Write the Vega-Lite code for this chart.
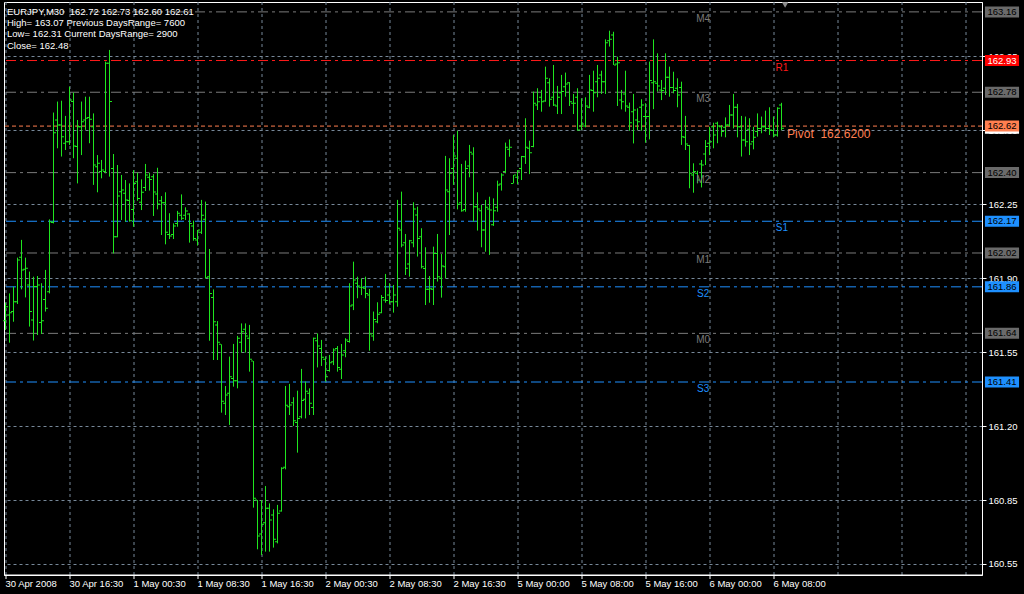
{
  "$schema": "https://vega.github.io/schema/vega-lite/v6.json",
  "width": 978,
  "height": 573,
  "autosize": {"type": "none"},
  "padding": {"left": 4, "top": 2, "right": 42, "bottom": 19},
  "background": "#000000",
  "config": {
    "view": {"stroke": "#ffffff", "strokeWidth": 1},
    "font": "Liberation Sans"
  },
  "title": {
    "text": "EURJPY,M30\u00a0 162.72 162.73 162.60 162.61",
    "subtitle": ["High= 163.07 Previous DaysRange= 7600", "Low= 162.31 Current DaysRange= 2900", "Close= 162.48"],
    "anchor": "start",
    "frame": "group",
    "orient": "top",
    "offset": -48,
    "dx": 3,
    "color": "#ffffff",
    "subtitleColor": "#ffffff",
    "font": "Liberation Sans",
    "subtitleFont": "Liberation Sans",
    "fontSize": 9.5,
    "subtitleFontSize": 9.5,
    "fontWeight": "normal",
    "subtitleLineHeight": 11.5,
    "subtitlePadding": 1.5
  },
  "datasets": {
    "bars": [
      {"i":0,"o":161.700,"h":161.785,"l":161.656,"c":161.766},
      {"i":1,"o":161.727,"h":161.829,"l":161.596,"c":161.738},
      {"i":2,"o":161.743,"h":161.861,"l":161.695,"c":161.790},
      {"i":3,"o":161.790,"h":161.998,"l":161.779,"c":161.987},
      {"i":4,"o":162.000,"h":162.082,"l":161.848,"c":161.940},
      {"i":5,"o":161.943,"h":161.998,"l":161.810,"c":161.948},
      {"i":6,"o":161.869,"h":161.932,"l":161.672,"c":161.743},
      {"i":7,"o":161.703,"h":161.908,"l":161.606,"c":161.861},
      {"i":8,"o":161.861,"h":161.911,"l":161.632,"c":161.869},
      {"i":9,"o":161.691,"h":161.877,"l":161.637,"c":161.700},
      {"i":10,"o":161.800,"h":161.940,"l":161.743,"c":161.759},
      {"i":11,"o":161.837,"h":162.179,"l":161.829,"c":162.168},
      {"i":12,"o":162.164,"h":162.684,"l":162.160,"c":162.589},
      {"i":13,"o":162.649,"h":162.736,"l":162.515,"c":162.625},
      {"i":14,"o":162.625,"h":162.740,"l":162.476,"c":162.570},
      {"i":15,"o":162.539,"h":162.668,"l":162.507,"c":162.546},
      {"i":16,"o":162.546,"h":162.806,"l":162.531,"c":162.743},
      {"i":17,"o":162.736,"h":162.778,"l":162.468,"c":162.526},
      {"i":18,"o":162.523,"h":162.649,"l":162.349,"c":162.617},
      {"i":19,"o":162.617,"h":162.736,"l":162.483,"c":162.641},
      {"i":20,"o":162.649,"h":162.759,"l":162.602,"c":162.657},
      {"i":21,"o":162.661,"h":162.759,"l":162.539,"c":162.652},
      {"i":22,"o":162.617,"h":162.680,"l":162.342,"c":162.436},
      {"i":23,"o":162.428,"h":162.483,"l":162.307,"c":162.444},
      {"i":24,"o":162.405,"h":162.460,"l":162.373,"c":162.412},
      {"i":25,"o":162.405,"h":162.925,"l":162.397,"c":162.917},
      {"i":26,"o":162.917,"h":162.980,"l":162.381,"c":162.736},
      {"i":27,"o":162.420,"h":162.488,"l":162.018,"c":162.097},
      {"i":28,"o":162.097,"h":162.436,"l":162.094,"c":162.290},
      {"i":29,"o":162.310,"h":162.389,"l":162.176,"c":162.318},
      {"i":30,"o":162.302,"h":162.365,"l":162.168,"c":162.271},
      {"i":31,"o":162.268,"h":162.349,"l":162.168,"c":162.173},
      {"i":32,"o":162.226,"h":162.412,"l":162.144,"c":162.349},
      {"i":33,"o":162.357,"h":162.400,"l":162.267,"c":162.278},
      {"i":34,"o":162.260,"h":162.368,"l":162.223,"c":162.307},
      {"i":35,"o":162.330,"h":162.441,"l":162.313,"c":162.389},
      {"i":36,"o":162.378,"h":162.400,"l":162.315,"c":162.368},
      {"i":37,"o":162.381,"h":162.393,"l":162.195,"c":162.308},
      {"i":38,"o":162.299,"h":162.423,"l":162.226,"c":162.252},
      {"i":39,"o":162.267,"h":162.289,"l":162.105,"c":162.258},
      {"i":40,"o":162.258,"h":162.307,"l":162.061,"c":162.118},
      {"i":41,"o":162.108,"h":162.208,"l":162.086,"c":162.100},
      {"i":42,"o":162.108,"h":162.160,"l":162.086,"c":162.148},
      {"i":43,"o":162.160,"h":162.219,"l":162.144,"c":162.208},
      {"i":44,"o":162.198,"h":162.297,"l":162.176,"c":162.184},
      {"i":45,"o":162.198,"h":162.236,"l":162.176,"c":162.219},
      {"i":46,"o":162.204,"h":162.208,"l":162.069,"c":162.160},
      {"i":47,"o":162.148,"h":162.173,"l":162.078,"c":162.088},
      {"i":48,"o":162.081,"h":162.129,"l":162.055,"c":162.129},
      {"i":49,"o":162.118,"h":162.271,"l":162.110,"c":162.198},
      {"i":50,"o":162.179,"h":162.263,"l":161.900,"c":161.903},
      {"i":51,"o":161.908,"h":162.039,"l":161.605,"c":161.829},
      {"i":52,"o":161.810,"h":161.848,"l":161.514,"c":161.695},
      {"i":53,"o":161.680,"h":161.698,"l":161.514,"c":161.598},
      {"i":54,"o":161.588,"h":161.588,"l":161.265,"c":161.319},
      {"i":55,"o":161.309,"h":161.391,"l":161.254,"c":161.349},
      {"i":56,"o":161.357,"h":161.530,"l":161.207,"c":161.435},
      {"i":57,"o":161.427,"h":161.590,"l":161.388,"c":161.416},
      {"i":58,"o":161.416,"h":161.628,"l":161.380,"c":161.617},
      {"i":59,"o":161.598,"h":161.687,"l":161.549,"c":161.648},
      {"i":60,"o":161.659,"h":161.687,"l":161.549,"c":161.628},
      {"i":61,"o":161.617,"h":161.680,"l":161.459,"c":161.517},
      {"i":62,"o":161.509,"h":161.509,"l":160.816,"c":160.860},
      {"i":63,"o":160.852,"h":160.852,"l":160.619,"c":160.682},
      {"i":64,"o":160.691,"h":160.852,"l":160.592,"c":160.737},
      {"i":65,"o":160.745,"h":160.918,"l":160.608,"c":160.813},
      {"i":66,"o":160.813,"h":160.836,"l":160.608,"c":160.758},
      {"i":67,"o":160.781,"h":160.808,"l":160.627,"c":160.666},
      {"i":68,"o":160.655,"h":160.829,"l":160.647,"c":160.789},
      {"i":69,"o":160.800,"h":161.007,"l":160.797,"c":161.002},
      {"i":70,"o":161.007,"h":161.391,"l":160.997,"c":161.300},
      {"i":71,"o":161.293,"h":161.401,"l":161.254,"c":161.301},
      {"i":72,"o":161.312,"h":161.338,"l":161.202,"c":161.227},
      {"i":73,"o":161.218,"h":161.369,"l":161.076,"c":161.238},
      {"i":74,"o":161.246,"h":161.472,"l":161.238,"c":161.322},
      {"i":75,"o":161.328,"h":161.412,"l":161.238,"c":161.366},
      {"i":76,"o":161.357,"h":161.380,"l":161.254,"c":161.309},
      {"i":77,"o":161.290,"h":161.620,"l":161.254,"c":161.617},
      {"i":78,"o":161.605,"h":161.640,"l":161.479,"c":161.580},
      {"i":79,"o":161.569,"h":161.609,"l":161.486,"c":161.527},
      {"i":80,"o":161.517,"h":161.530,"l":161.412,"c":161.435},
      {"i":81,"o":161.464,"h":161.538,"l":161.459,"c":161.501},
      {"i":82,"o":161.506,"h":161.569,"l":161.490,"c":161.561},
      {"i":83,"o":161.569,"h":161.580,"l":161.459,"c":161.479},
      {"i":84,"o":161.470,"h":161.590,"l":161.424,"c":161.538},
      {"i":85,"o":161.558,"h":161.617,"l":161.527,"c":161.609},
      {"i":86,"o":161.601,"h":161.877,"l":161.596,"c":161.769},
      {"i":87,"o":161.774,"h":161.979,"l":161.750,"c":161.892},
      {"i":88,"o":161.877,"h":161.908,"l":161.806,"c":161.864},
      {"i":89,"o":161.858,"h":161.900,"l":161.821,"c":161.858},
      {"i":90,"o":161.853,"h":161.908,"l":161.806,"c":161.829},
      {"i":91,"o":161.821,"h":161.850,"l":161.558,"c":161.637},
      {"i":92,"o":161.628,"h":161.743,"l":161.605,"c":161.706},
      {"i":93,"o":161.695,"h":161.787,"l":161.688,"c":161.730},
      {"i":94,"o":161.738,"h":161.821,"l":161.735,"c":161.810},
      {"i":95,"o":161.798,"h":161.921,"l":161.785,"c":161.795},
      {"i":96,"o":161.821,"h":161.877,"l":161.779,"c":161.790},
      {"i":97,"o":161.790,"h":161.869,"l":161.738,"c":161.821},
      {"i":98,"o":161.790,"h":162.271,"l":161.766,"c":162.137},
      {"i":99,"o":162.129,"h":162.310,"l":162.047,"c":162.058},
      {"i":100,"o":162.069,"h":162.110,"l":161.916,"c":161.948},
      {"i":101,"o":161.968,"h":162.082,"l":161.908,"c":162.078},
      {"i":102,"o":162.069,"h":162.260,"l":162.047,"c":162.228},
      {"i":103,"o":162.200,"h":162.239,"l":162.003,"c":162.089},
      {"i":104,"o":162.097,"h":162.137,"l":161.947,"c":161.955},
      {"i":105,"o":161.947,"h":162.047,"l":161.774,"c":161.848},
      {"i":106,"o":161.848,"h":161.911,"l":161.785,"c":161.851},
      {"i":107,"o":161.848,"h":162.050,"l":161.774,"c":162.018},
      {"i":108,"o":162.018,"h":162.110,"l":161.885,"c":161.908},
      {"i":109,"o":161.900,"h":162.015,"l":161.809,"c":161.959},
      {"i":110,"o":161.955,"h":162.479,"l":161.900,"c":162.318},
      {"i":111,"o":162.310,"h":162.468,"l":162.105,"c":162.397},
      {"i":112,"o":162.420,"h":162.578,"l":162.342,"c":162.479},
      {"i":113,"o":162.468,"h":162.598,"l":162.226,"c":162.250},
      {"i":114,"o":162.258,"h":162.441,"l":162.215,"c":162.220},
      {"i":115,"o":162.226,"h":162.457,"l":162.215,"c":162.420},
      {"i":116,"o":162.431,"h":162.531,"l":162.378,"c":162.496},
      {"i":117,"o":162.488,"h":162.520,"l":162.168,"c":162.239},
      {"i":118,"o":162.239,"h":162.307,"l":162.126,"c":162.228},
      {"i":119,"o":162.220,"h":162.247,"l":162.047,"c":162.129},
      {"i":120,"o":162.129,"h":162.271,"l":162.026,"c":162.236},
      {"i":121,"o":162.228,"h":162.286,"l":162.011,"c":162.223},
      {"i":122,"o":162.153,"h":162.278,"l":162.148,"c":162.220},
      {"i":123,"o":162.236,"h":162.362,"l":162.215,"c":162.342},
      {"i":124,"o":162.346,"h":162.397,"l":162.315,"c":162.389},
      {"i":125,"o":162.405,"h":162.542,"l":162.397,"c":162.520},
      {"i":126,"o":162.510,"h":162.557,"l":162.475,"c":162.520},
      {"i":127,"o":162.349,"h":162.389,"l":162.349,"c":162.389},
      {"i":128,"o":162.378,"h":162.412,"l":162.346,"c":162.408},
      {"i":129,"o":162.420,"h":162.479,"l":162.365,"c":162.476},
      {"i":130,"o":162.475,"h":162.657,"l":162.441,"c":162.520},
      {"i":131,"o":162.515,"h":162.551,"l":162.393,"c":162.494},
      {"i":132,"o":162.523,"h":162.783,"l":162.520,"c":162.728},
      {"i":133,"o":162.720,"h":162.799,"l":162.696,"c":162.735},
      {"i":134,"o":162.756,"h":162.791,"l":162.688,"c":162.735},
      {"i":135,"o":162.739,"h":162.901,"l":162.735,"c":162.846},
      {"i":136,"o":162.825,"h":162.846,"l":162.712,"c":162.747},
      {"i":137,"o":162.756,"h":162.909,"l":162.715,"c":162.720},
      {"i":138,"o":162.715,"h":162.810,"l":162.677,"c":162.756},
      {"i":139,"o":162.778,"h":162.862,"l":162.677,"c":162.783},
      {"i":140,"o":162.806,"h":162.873,"l":162.759,"c":162.819},
      {"i":141,"o":162.825,"h":162.828,"l":162.715,"c":162.735},
      {"i":142,"o":162.728,"h":162.772,"l":162.677,"c":162.728},
      {"i":143,"o":162.756,"h":162.799,"l":162.598,"c":162.601},
      {"i":144,"o":162.620,"h":162.751,"l":162.601,"c":162.630},
      {"i":145,"o":162.620,"h":162.756,"l":162.614,"c":162.715},
      {"i":146,"o":162.709,"h":162.862,"l":162.704,"c":162.791},
      {"i":147,"o":162.788,"h":162.882,"l":162.688,"c":162.778},
      {"i":148,"o":162.830,"h":162.909,"l":162.756,"c":162.846},
      {"i":149,"o":162.862,"h":162.882,"l":162.772,"c":162.830},
      {"i":150,"o":162.830,"h":163.030,"l":162.772,"c":163.014},
      {"i":151,"o":163.024,"h":163.071,"l":162.996,"c":163.030},
      {"i":152,"o":163.051,"h":163.066,"l":162.909,"c":162.909},
      {"i":153,"o":162.914,"h":162.948,"l":162.715,"c":162.920},
      {"i":154,"o":162.743,"h":162.791,"l":162.699,"c":162.735},
      {"i":155,"o":162.772,"h":162.882,"l":162.688,"c":162.715},
      {"i":156,"o":162.709,"h":162.731,"l":162.598,"c":162.636},
      {"i":157,"o":162.688,"h":162.772,"l":162.538,"c":162.696},
      {"i":158,"o":162.649,"h":162.704,"l":162.601,"c":162.641},
      {"i":159,"o":162.709,"h":162.747,"l":162.598,"c":162.720},
      {"i":160,"o":162.665,"h":162.728,"l":162.542,"c":162.665},
      {"i":161,"o":162.665,"h":162.925,"l":162.557,"c":162.835},
      {"i":162,"o":162.825,"h":163.030,"l":162.700,"c":162.830},
      {"i":163,"o":162.822,"h":162.964,"l":162.783,"c":162.810},
      {"i":164,"o":162.791,"h":162.838,"l":162.743,"c":162.788},
      {"i":165,"o":162.799,"h":162.964,"l":162.767,"c":162.851},
      {"i":166,"o":162.851,"h":162.901,"l":162.759,"c":162.803},
      {"i":167,"o":162.803,"h":162.877,"l":162.775,"c":162.788},
      {"i":168,"o":162.799,"h":162.846,"l":162.709,"c":162.767},
      {"i":169,"o":162.803,"h":162.830,"l":162.531,"c":162.570},
      {"i":170,"o":162.567,"h":162.668,"l":162.507,"c":162.535},
      {"i":171,"o":162.528,"h":162.531,"l":162.326,"c":162.397},
      {"i":172,"o":162.389,"h":162.444,"l":162.305,"c":162.405},
      {"i":173,"o":162.397,"h":162.409,"l":162.349,"c":162.365},
      {"i":174,"o":162.441,"h":162.460,"l":162.330,"c":162.436},
      {"i":175,"o":162.488,"h":162.554,"l":162.436,"c":162.523},
      {"i":176,"o":162.539,"h":162.617,"l":162.483,"c":162.546},
      {"i":177,"o":162.617,"h":162.636,"l":162.515,"c":162.578},
      {"i":178,"o":162.633,"h":162.641,"l":162.539,"c":162.620},
      {"i":179,"o":162.617,"h":162.625,"l":162.570,"c":162.594},
      {"i":180,"o":162.614,"h":162.661,"l":162.567,"c":162.625},
      {"i":181,"o":162.625,"h":162.720,"l":162.617,"c":162.672},
      {"i":182,"o":162.672,"h":162.772,"l":162.609,"c":162.709},
      {"i":183,"o":162.709,"h":162.725,"l":162.567,"c":162.617},
      {"i":184,"o":162.617,"h":162.668,"l":162.476,"c":162.554},
      {"i":185,"o":162.554,"h":162.665,"l":162.523,"c":162.546},
      {"i":186,"o":162.605,"h":162.657,"l":162.483,"c":162.535},
      {"i":187,"o":162.546,"h":162.617,"l":162.510,"c":162.567},
      {"i":188,"o":162.594,"h":162.680,"l":162.570,"c":162.609},
      {"i":189,"o":162.609,"h":162.665,"l":162.586,"c":162.617},
      {"i":190,"o":162.617,"h":162.693,"l":162.594,"c":162.609},
      {"i":191,"o":162.609,"h":162.709,"l":162.578,"c":162.602},
      {"i":192,"o":162.599,"h":162.665,"l":162.567,"c":162.578},
      {"i":193,"o":162.578,"h":162.709,"l":162.570,"c":162.704},
      {"i":194,"o":162.720,"h":162.730,"l":162.600,"c":162.610}
    ],
    "levels": [
      {"name":"M4","label":"M4","price":163.16,"kind":"M"},
      {"name":"R1","label":"R1","price":162.93,"kind":"R"},
      {"name":"M3","label":"M3","price":162.78,"kind":"M"},
      {"name":"Pivot","label":"Pivot\u00a0 162.6200","price":162.62,"kind":"P"},
      {"name":"M2","label":"M2","price":162.40,"kind":"M"},
      {"name":"S1","label":"S1","price":162.17,"kind":"S"},
      {"name":"M1","label":"M1","price":162.02,"kind":"M"},
      {"name":"S2","label":"S2","price":161.86,"kind":"S"},
      {"name":"M0","label":"M0","price":161.64,"kind":"M"},
      {"name":"S3","label":"S3","price":161.41,"kind":"S"}
    ],
    "boxes": [
      {"price":163.16,"kind":"M"},
      {"price":162.93,"kind":"R"},
      {"price":162.78,"kind":"M"},
      {"price":162.61,"kind":"Bid"},
      {"price":162.62,"kind":"P"},
      {"price":162.40,"kind":"M"},
      {"price":162.17,"kind":"S"},
      {"price":162.02,"kind":"M"},
      {"price":161.86,"kind":"S"},
      {"price":161.64,"kind":"M"},
      {"price":161.41,"kind":"S"}
    ]
  },
  "layer": [
    {
      "data": {"name": "levels"},
      "mark": {"type": "rule", "strokeWidth": 1},
      "encoding": {
        "y": {
          "field": "price",
          "type": "quantitative",
          "scale": {"domain": [160.4975, 163.2067], "nice": false, "zero": false},
          "axis": {
            "title": null,
            "orient": "right",
            "zindex": 0,
            "values": [163.15, 162.95, 162.80, 162.60, 162.45, 162.25, 162.10, 161.90, 161.75, 161.55, 161.40, 161.20, 161.05, 160.85, 160.70, 160.55],
            "format": ".2f",
            "grid": true,
            "gridColor": "#778899",
            "gridDash": [3, 3],
            "gridWidth": 1,
            "domainColor": "#ffffff",
            "tickColor": "#ffffff",
            "tickSize": 4,
            "labelPadding": 2,
            "labelColor": "#ffffff",
            "labelFont": "Liberation Sans",
            "labelFontSize": 9.5,
            "labelBaseline": "middle",
            "labelOverlap": false,
            "labelFlush": false,
            "labelBound": false
          }
        },
        "color": {
          "field": "kind",
          "type": "nominal",
          "scale": {"domain": ["M", "R", "P", "S"], "range": ["#7a7a7a", "#ff1a1a", "#ff7f50", "#1e90ff"]},
          "legend": null
        },
        "strokeDash": {
          "field": "kind",
          "type": "nominal",
          "scale": {"domain": ["M", "R", "P", "S"], "range": [[10, 4, 3, 4], [10, 4, 3, 4], [4, 3], [10, 4, 3, 4]]},
          "legend": null
        }
      }
    },
    {
      "data": {"name": "bars"},
      "mark": {"type": "rule", "color": "#1fe61f", "strokeWidth": 1},
      "encoding": {
        "x": {
          "field": "i",
          "type": "quantitative",
          "scale": {"domain": [-0.375, 244.125], "nice": false, "zero": false},
          "axis": {
            "title": null,
            "zindex": 0,
            "values": [0,8,16,24,32,40,48,56,64,72,80,88,96,104,112,120,128,136,144,152,160,168,176,184,192,200,208,216,224,232,240],
            "grid": true,
            "gridColor": "#778899",
            "gridDash": [3, 3],
            "gridWidth": 1,
            "domainColor": "#ffffff",
            "tickColor": "#ffffff",
            "tickSize": 4,
            "tickOpacity": {"condition": {"test": "datum.value % 16 === 0 && datum.value <= 192", "value": 1}, "value": 0},
            "translate": 0,
            "labelExpr": "['30 Apr 2008','30 Apr 16:30','1 May 00:30','1 May 08:30','1 May 16:30','2 May 00:30','2 May 08:30','2 May 16:30','5 May 00:00','5 May 08:00','5 May 16:00','6 May 00:00','6 May 08:00'][datum.value / 16] || ''",
            "labelAlign": "left",
            "labelBaseline": "top",
            "labelPadding": 0,
            "labelColor": "#ffffff",
            "labelFont": "Liberation Sans",
            "labelFontSize": 9.5,
            "labelOverlap": false,
            "labelFlush": false,
            "labelBound": false
          }
        },
        "y": {"field": "l", "type": "quantitative"},
        "y2": {"field": "h"}
      }
    },
    {
      "data": {"name": "bars"},
      "mark": {"type": "tick", "orient": "horizontal", "color": "#1fe61f", "size": 2, "thickness": 1, "xOffset": -1.5, "opacity": 1},
      "encoding": {
        "x": {"field": "i", "type": "quantitative"},
        "y": {"field": "o", "type": "quantitative"}
      }
    },
    {
      "data": {"name": "bars"},
      "mark": {"type": "tick", "orient": "horizontal", "color": "#1fe61f", "size": 2, "thickness": 1, "xOffset": 1.5, "opacity": 1},
      "encoding": {
        "x": {"field": "i", "type": "quantitative"},
        "y": {"field": "c", "type": "quantitative"}
      }
    },
    {
      "data": {"name": "levels"},
      "transform": [{"filter": {"field": "name", "oneOf": ["M4", "M3", "M2", "M1", "M0", "S2", "S3"]}}],
      "mark": {"type": "text", "align": "center", "baseline": "middle", "yOffset": 7, "fontSize": 10, "font": "Liberation Sans"},
      "encoding": {
        "x": {"datum": 174.4, "type": "quantitative"},
        "y": {"field": "price", "type": "quantitative"},
        "text": {"field": "label"},
        "color": {"field": "kind", "type": "nominal", "legend": null}
      }
    },
    {
      "data": {"name": "levels"},
      "transform": [{"filter": {"field": "name", "oneOf": ["R1", "S1"]}}],
      "mark": {"type": "text", "align": "center", "baseline": "middle", "yOffset": 7, "fontSize": 10, "font": "Liberation Sans"},
      "encoding": {
        "x": {"datum": 194.1, "type": "quantitative"},
        "y": {"field": "price", "type": "quantitative"},
        "text": {"field": "label"},
        "color": {"field": "kind", "type": "nominal", "legend": null}
      }
    },
    {
      "data": {"name": "levels"},
      "transform": [{"filter": {"field": "name", "equal": "Pivot"}}],
      "mark": {"type": "text", "align": "left", "baseline": "middle", "yOffset": 8, "fontSize": 12, "font": "Liberation Sans"},
      "encoding": {
        "x": {"datum": 195.4, "type": "quantitative"},
        "y": {"field": "price", "type": "quantitative"},
        "text": {"field": "label"},
        "color": {"field": "kind", "type": "nominal", "legend": null}
      }
    },
    {
      "data": {"name": "boxes"},
      "mark": {"type": "point", "shape": "M-3.1,-1L3.1,-1L3.1,1L-3.1,1Z", "size": 121, "filled": true, "opacity": 1, "strokeWidth": 0, "xOffset": 20, "clip": false},
      "encoding": {
        "x": {"value": "width"},
        "y": {"field": "price", "type": "quantitative"},
        "fill": {
          "field": "kind",
          "type": "nominal",
          "scale": {"domain": ["M", "R", "Bid", "P", "S"], "range": ["#6a6a6a", "#ff0000", "#ffffff", "#ff7f50", "#1e90ff"]},
          "legend": null
        }
      }
    },
    {
      "data": {"name": "boxes"},
      "transform": [{"filter": "datum.kind !== 'Bid'"}],
      "mark": {"type": "text", "align": "center", "baseline": "middle", "xOffset": 20, "fontSize": 9.5, "font": "Liberation Sans", "clip": false},
      "encoding": {
        "x": {"value": "width"},
        "y": {"field": "price", "type": "quantitative"},
        "text": {"field": "price", "type": "quantitative", "format": ".2f"},
        "color": {"condition": {"test": "datum.kind === 'R'", "value": "#ffffff"}, "value": "#000000"}
      }
    },
    {
      "data": {"values": [{}]},
      "mark": {"type": "point", "shape": "triangle-down", "filled": true, "color": "#8a8a8a", "size": 40, "opacity": 1, "clip": false},
      "encoding": {
        "x": {"datum": 194.9, "type": "quantitative"},
        "y": {"datum": 163.192, "type": "quantitative"}
      }
    }
  ]
}
